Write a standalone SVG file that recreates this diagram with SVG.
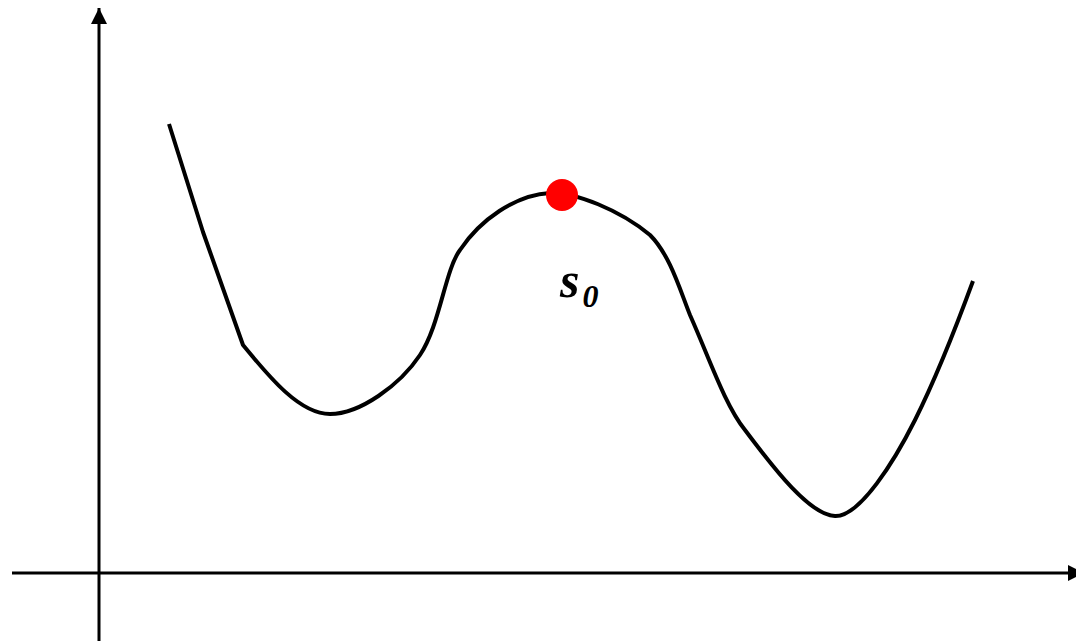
<svg xmlns="http://www.w3.org/2000/svg" width="1076" height="644" viewBox="0 0 1076 644">
<style>
.axis{stroke:#000;stroke-width:3;fill:none}
.curve{stroke:#000;stroke-width:4;fill:none;stroke-linejoin:round;stroke-linecap:butt}
.lbl{font-family:"Liberation Serif",serif;font-weight:bold;font-style:italic;fill:#000}
</style>
<defs>
<marker id="ahv" viewBox="0 0 10 10" refX="10" refY="5" markerWidth="16" markerHeight="16" markerUnits="userSpaceOnUse" orient="auto">
<path d="M0,0 L10,5 L0,10 z" fill="#000"/>
</marker>
</defs>
<rect width="1076" height="644" fill="#fff"/>
<g id="connectors">
<line class="axis" x1="99" y1="641" x2="99" y2="8" marker-end="url(#ahv)"/>
<line class="axis" x1="12" y1="573" x2="1084" y2="573" marker-end="url(#ahv)"/>
</g>
<g id="curve">
<path class="curve" d="M169,124 L203,232 L243,345 C270,378 300,414 330,414 C360,414 400,385 420,355 C440,325 445,270 460,250 C480,220 515,195 550,193 C575,192 620,210 650,235 C670,255 680,290 690,315 C710,360 725,405 745,430 C775,470 810,515 835,516 C860,517 895,460 915,420 C935,380 955,330 973,281"/>
</g>
<g id="s0">
<circle cx="562" cy="195" r="16" fill="#ff0000"/>
<text class="lbl" x="560" y="297" font-size="50">s<tspan font-size="32" dx="3" dy="10">0</tspan></text>
</g>
</svg>
